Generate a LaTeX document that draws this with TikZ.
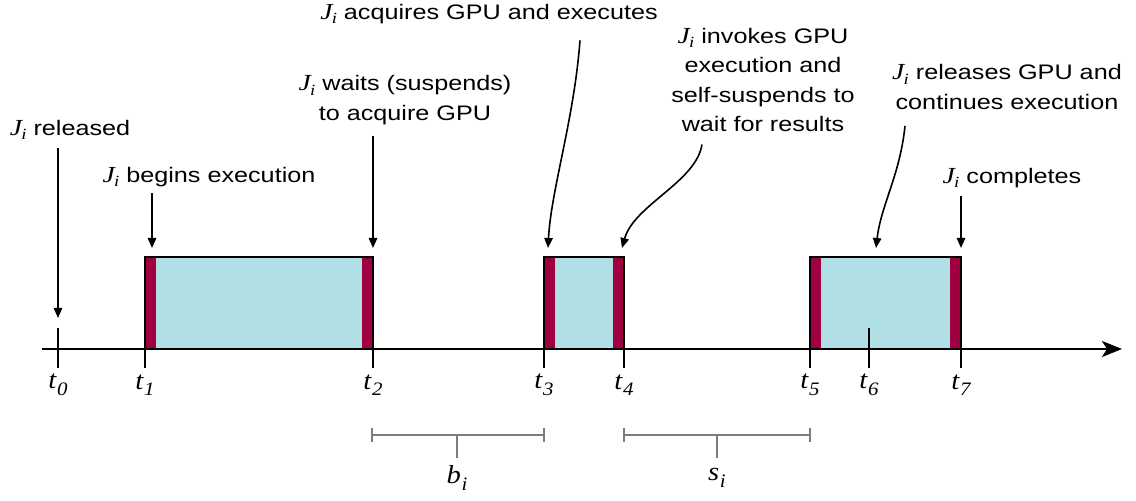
\documentclass[tikz,border=0pt]{standalone}
\usepackage{fontspec}
\setmainfont{Liberation Sans}
\newfontfamily\tms{Liberation Serif}
\usetikzlibrary{arrows.meta}

\definecolor{gpublue}{RGB}{176,224,230}
\definecolor{gpured}{RGB}{160,0,64}
\definecolor{spangray}{RGB}{125,125,125}

\newcommand{\Ji}{{\tms\itshape\fontsize{11.5}{11.5}\selectfont J\kern-0.3pt\raisebox{-0.45ex}{\fontsize{7.8}{7.8}\selectfont i}}}
\newcommand{\tlab}[2]{{\tms\itshape #1\kern0.3pt\raisebox{-0.55ex}{\fontsize{9.5}{9.5}\selectfont #2}}}

\begin{document}
\begin{tikzpicture}[x=0.5pt,y=-0.5pt,
	note/.style={font=\fontsize{10.5}{14.8}\selectfont,align=center,inner sep=0pt,xscale=1.2},
	tname/.style={font=\fontsize{13}{13}\selectfont,inner sep=0pt,xscale=1.1},
	pin/.style={-{Triangle[length=5pt,width=4.2pt]},line width=0.8pt},
	gap/.style={draw=spangray,line width=1pt}]
	\useasboundingbox (0,0) rectangle (1136,501);

	\foreach \l/\r in {145/373,544/624,810/961} {
		\fill[gpublue] (\l,257) rectangle (\r,349);
		\fill[gpured] (\l,257) rectangle (\l+11,349);
		\fill[gpured] (\r-11,257) rectangle (\r,349);
		\draw[line width=1pt] (\l,349) -- (\l,257) -- (\r,257) -- (\r,349);
	}

	\draw[line width=1.2pt,-{Stealth[length=10pt,width=8pt,inset=2.5pt]}] (42,349) -- (1122,349);
	\foreach \x/\n in {58/0,145/1,373/2,544/3,624/4,810/5,869/6,961/7} {
		\coordinate (t\n) at (\x,349);
		\draw[line width=1pt] (\x,328) -- (\x,368);
		\node[tname] (l\n) at (\x,385) {\tlab{t}{\n}};
	}

	\node[note] (rel) at (70,130) {\Ji{} released};
	\node[note] (beg) at (209,177) {\Ji{} begins execution};
	\node[note] (wait) at (405,100) {\Ji{} waits (suspends)\\to acquire GPU};
	\node[note] (acq) at (489,14) {\Ji{} acquires GPU and executes};
	\node[note] (inv) at (763,80) {\Ji{} invokes GPU\\execution and\\self-suspends to\\wait for results};
	\node[note] (relg) at (1007,87) {\Ji{} releases GPU and\\continues execution};
	\node[note] (comp) at (1012,178) {\Ji{} completes};

	\coordinate (a0) at (58,318);
	\coordinate (a1) at (152,248);
	\coordinate (a2) at (373,248);
	\coordinate (a3) at (548,248);
	\coordinate (a4) at (622,248);
	\coordinate (a5) at (876,248);
	\coordinate (a7) at (961,248);
	\draw[pin,shorten <=4pt] (rel.south -| a0) -- (a0);
	\draw[pin,shorten <=3pt] (beg.south -| a1) -- (a1);
	\draw[pin,shorten <=5.5pt] (wait.south -| a2) -- (a2);
	\draw[pin,shorten <=4pt] (comp.south -| a7) -- (a7);
	\draw[pin] ([shift={(91,16)}]acq.south) .. controls (574,120) and (551,190) .. (a3);
	\draw[pin] ([shift={(-61,12)}]inv.south) .. controls (696,182) and (634,205) .. (a4);
	\draw[pin] ([shift={(-102,16)}]relg.south) .. controls (900,175) and (881,205) .. (a5);

	\foreach \a/\b/\m/\n in {372/544/457/b,624/810/717/s} {
		\draw[gap] (\a,428) -- (\a,442) (\a,435) -- (\b,435) (\b,428) -- (\b,442) (\m,435) -- (\m,458);
		\node[tname] (\n) at (\m,478) {\tlab{\n}{i}};
	}
\end{tikzpicture}
\end{document}
